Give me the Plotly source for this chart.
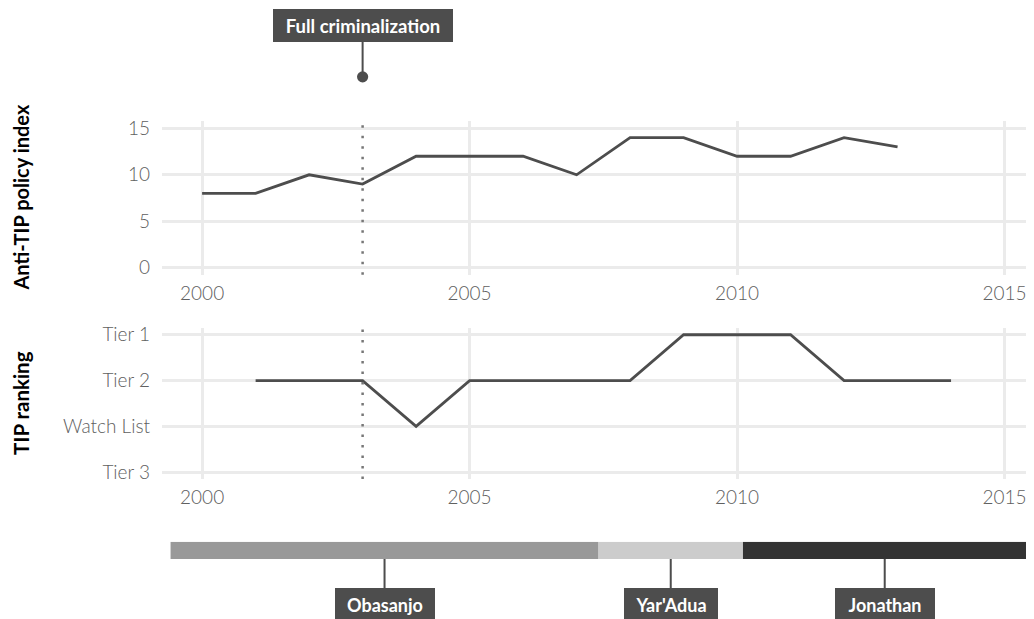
import plotly.graph_objects as go

# ---- data ----
years_policy = list(range(2000, 2014))
policy_index = [8, 8, 10, 9, 12, 12, 12, 10, 14, 14, 12, 12, 14, 13]

years_tip = list(range(2001, 2015))
tip_rank = ["Tier 2", "Tier 2", "Tier 2", "Watch List", "Tier 2", "Tier 2", "Tier 2",
            "Tier 2", "Tier 1", "Tier 1", "Tier 1", "Tier 2", "Tier 2", "Tier 2"]
tier_order_bottom_up = ["Tier 3", "Watch List", "Tier 2", "Tier 1"]

presidents = ["Obasanjo", "Yar'Adua", "Jonathan"]
term_start = [1999.41, 2007.41, 2010.11]
term_end = [2007.41, 2010.11, 2015.41]
president_colors = ["#999999", "#cccccc", "#333333"]

criminalization_year = 2003
criminalization_label = "Full criminalization"

# ---- style ----
W, H = 1034, 619
OFFX = 8
OFFY, SY = 11.0, 0.988   # observed page offset / vertical scale
L = 162 - OFFX
PLOT_W = W - L
FONT = "Lato"
LINE = "#4d4d4d"
GRID = "#ebebeb"
TICKFONT = dict(family=FONT, size=19, color="#606060", weight=300)
XRANGE = [1999.25, 2015.70]
label_box_w = {"Obasanjo": 100, "Yar'Adua": 94, "Jonathan": 100}


def py(screen_y):
    return 1 - ((screen_y - OFFY) / SY) / H


def px(screen_x):
    return (screen_x - OFFX - L) / PLOT_W


fig = go.Figure()

fig.add_trace(go.Scatter(x=years_policy, y=policy_index, mode="lines",
                         line=dict(color=LINE, width=2.8), xaxis="x", yaxis="y",
                         showlegend=False))
fig.add_trace(go.Scatter(x=years_tip, y=tip_rank, mode="lines",
                         line=dict(color=LINE, width=2.8), xaxis="x2", yaxis="y2",
                         showlegend=False))
for name, s, e, c in zip(presidents, term_start, term_end, president_colors):
    fig.add_trace(go.Bar(x=[e - s], base=[s], y=[0], orientation="h", width=1,
                         marker=dict(color=c, line=dict(width=0)),
                         xaxis="x3", yaxis="y3", showlegend=False, name=name))

xcommon = dict(range=XRANGE, showgrid=True, gridcolor=GRID, gridwidth=2.5,
               zeroline=False, showline=False, tickvals=[2000, 2005, 2010, 2015],
               tickfont=TICKFONT, ticks="", ticklabelstandoff=5)
ycommon = dict(showgrid=True, gridcolor=GRID, gridwidth=2.5, zeroline=False,
               showline=False, tickfont=TICKFONT, ticks="", ticklabelstandoff=11)

fig.update_layout(
    width=W, height=H,
    margin=dict(l=L, r=0, t=0, b=0),
    plot_bgcolor="white", paper_bgcolor="white",
    barmode="overlay",
    xaxis=dict(**xcommon, domain=[0, 1], anchor="y"),
    yaxis=dict(**ycommon, domain=[py(273.3), py(119.7)], range=[-0.75, 15.75],
               tickvals=[0, 5, 10, 15], anchor="x"),
    xaxis2=dict(**xcommon, domain=[0, 1], anchor="y2"),
    yaxis2=dict(**ycommon, domain=[py(478.3), py(326.7)], type="category",
                categoryorder="array", categoryarray=tier_order_bottom_up,
                range=[-0.15, 3.15], anchor="x2"),
    xaxis3=dict(range=XRANGE, domain=[0, 1], anchor="y3", visible=False),
    yaxis3=dict(range=[-0.5, 0.5], domain=[py(558.3), py(541)], anchor="x3", visible=False),
)

# dotted event lines
for yref in ["y domain", "y2 domain"]:
    fig.add_shape(type="line", xref="x", yref=yref, x0=criminalization_year,
                  x1=criminalization_year, y0=0, y1=1,
                  line=dict(color="#777777", width=2.5, dash="2.5px,8px"))

# axis titles
fig.add_annotation(text="<b>Anti-TIP policy index</b>", xref="paper", yref="paper",
                   x=px(21), y=py(196), xanchor="center", yanchor="middle",
                   textangle=-90, showarrow=False,
                   font=dict(family=FONT, size=20, color="black"))
fig.add_annotation(text="<b>TIP ranking</b>", xref="paper", yref="paper",
                   x=px(21), y=py(402), xanchor="center", yanchor="middle",
                   textangle=-90, showarrow=False,
                   font=dict(family=FONT, size=20.5, color="black"))

# criminalization callout
fig.add_annotation(text="<b>" + criminalization_label + "</b>", x=criminalization_year,
                   xref="x", yref="paper", y=py(75), ax=0, ay=-51.5, showarrow=True,
                   arrowhead=6, arrowsize=1.4, arrowwidth=2, arrowcolor=LINE,
                   bgcolor=LINE, borderpad=0, borderwidth=0, width=180, height=33,
                   font=dict(family=FONT, size=18.5, color="white"))

# president labels
for name, s, e in zip(presidents, term_start, term_end):
    fig.add_annotation(text="<b>" + name + "</b>", x=(s + e) / 2, xref="x3",
                       yref="paper", y=py(558.3), ax=0, ay=45.7, showarrow=True,
                       arrowhead=0, arrowwidth=2, arrowcolor=LINE, bgcolor=LINE,
                       borderpad=0, borderwidth=0, width=label_box_w[name], height=33,
                       font=dict(family=FONT, size=18, color="white"))

fig.write_html("out.html")
